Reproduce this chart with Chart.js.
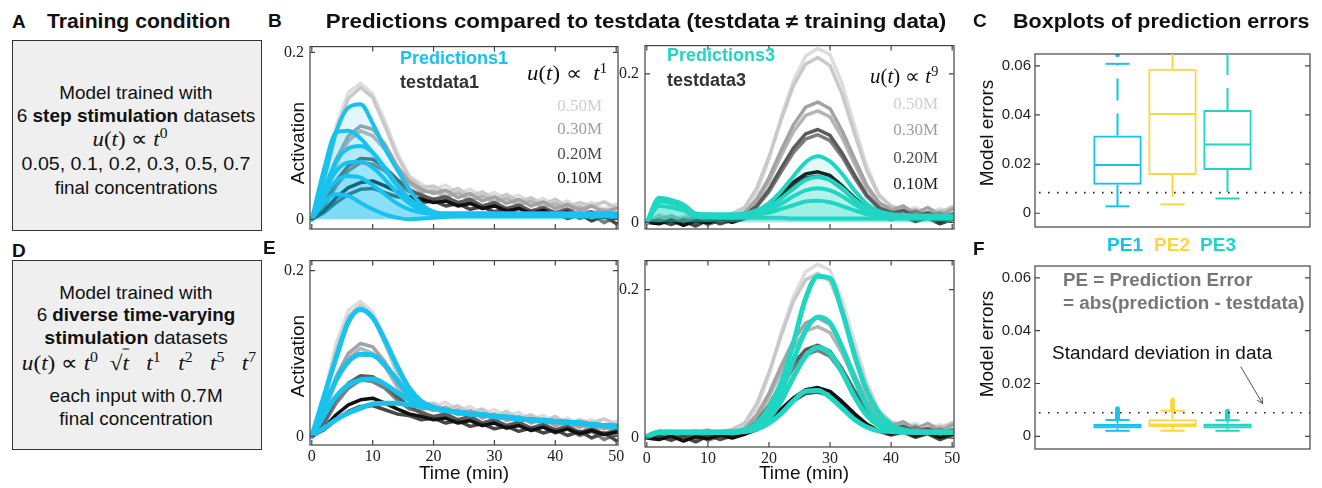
<!DOCTYPE html>
<html>
<head>
<meta charset="utf-8">
<script src="https://cdn.jsdelivr.net/npm/chart.js@4.4.0/dist/chart.umd.min.js"></script>
<style>
  body { margin: 0; background: #fff; }
  #fig { position: relative; width: 1322px; height: 488px; overflow: hidden; background: #fff; }
  .plot { position: absolute; }
  .lbl { position: absolute; white-space: nowrap; line-height: 1; z-index: 2; }
  .lbl sup { font-size: 0.68em; vertical-align: 0.5em; line-height: 0; }
  .ov { border-top: 1px solid #111; padding-top: 1px; }
  .panel { position: absolute; background: #efefef; border: 1.5px solid #333; box-sizing: border-box; }
</style>
</head>
<body>
<div id="fig">
  <div class="panel" style="left:12px;top:40px;width:250px;height:191px"></div>
  <div class="panel" style="left:12px;top:260px;width:250px;height:190px"></div>
</div>
<script>
// time grid (min)
const T = [0, 2, 4, 6, 8, 10, 12, 14, 16, 18, 20, 22, 24, 26, 28, 30, 32, 34, 36, 38, 40, 42, 44, 46, 48, 50];

// testdata1, u(t) ~ t^1 (two replicates per concentration)
const TD1_050A = [0, 0.05, 0.112, 0.152, 0.163, 0.15, 0.118, 0.08, 0.052, 0.042, 0.036, 0.041, 0.031, 0.036, 0.027, 0.032, 0.024, 0.029, 0.02, 0.025, 0.017, 0.022, 0.014, 0.02, 0.012, 0.018];
const TD1_050B = [0, 0.044, 0.104, 0.145, 0.158, 0.146, 0.112, 0.076, 0.05, 0.038, 0.04, 0.032, 0.037, 0.028, 0.033, 0.024, 0.03, 0.021, 0.026, 0.018, 0.024, 0.015, 0.02, 0.016, 0.021, 0.014];
const TD1_030A = [0, 0.03, 0.072, 0.1, 0.112, 0.108, 0.09, 0.064, 0.045, 0.036, 0.031, 0.035, 0.026, 0.031, 0.022, 0.027, 0.019, 0.024, 0.016, 0.021, 0.013, 0.018, 0.011, 0.016, 0.009, 0.013];
const TD1_030B = [0, 0.026, 0.066, 0.094, 0.106, 0.1, 0.084, 0.06, 0.043, 0.033, 0.034, 0.027, 0.032, 0.023, 0.028, 0.02, 0.025, 0.017, 0.022, 0.014, 0.019, 0.01, 0.015, 0.007, 0.012, 0.005];
const TD1_020A = [0, 0.018, 0.046, 0.064, 0.073, 0.072, 0.062, 0.048, 0.036, 0.028, 0.024, 0.027, 0.02, 0.024, 0.016, 0.02, 0.013, 0.017, 0.01, 0.014, 0.008, 0.012, 0.005, 0.009, 0.003, 0.007];
const TD1_020B = [0, 0.015, 0.04, 0.058, 0.068, 0.066, 0.058, 0.044, 0.033, 0.03, 0.022, 0.025, 0.017, 0.021, 0.013, 0.018, 0.01, 0.015, 0.007, 0.012, 0.004, 0.009, 0.001, 0.006, -0.004, 0.003];
const TD1_010A = [0, 0.01, 0.026, 0.038, 0.044, 0.046, 0.04, 0.033, 0.027, 0.024, 0.02, 0.022, 0.016, 0.019, 0.013, 0.016, 0.01, 0.013, 0.007, 0.011, 0.005, 0.009, 0.003, 0.007, 0.002, 0.005];
const TD1_010B = [0, 0.008, 0.02, 0.03, 0.036, 0.037, 0.032, 0.027, 0.025, 0.02, 0.022, 0.016, 0.019, 0.012, 0.015, 0.009, 0.012, 0.006, 0.01, 0.004, 0.008, 0.001, 0.006, -0.002, 0.004, -0.005];

// testdata3, u(t) ~ t^9
const TD3_050A = [0, 0.006, 0.002, 0.008, 0.001, 0.007, 0.003, 0.01, 0.016, 0.04, 0.085, 0.142, 0.19, 0.224, 0.234, 0.226, 0.186, 0.13, 0.076, 0.038, 0.021, 0.014, 0.02, 0.012, 0.018, 0.015];
const TD3_050B = [0, 0.01, 0.005, 0.003, 0.009, 0.002, 0.008, 0.012, 0.02, 0.046, 0.088, 0.138, 0.184, 0.213, 0.222, 0.211, 0.172, 0.12, 0.07, 0.036, 0.022, 0.017, 0.011, 0.019, 0.013, 0.021];
const TD3_030A = [0, 0.004, 0.009, 0.002, 0.006, 0.011, 0.001, 0.007, 0.013, 0.031, 0.06, 0.097, 0.131, 0.155, 0.162, 0.153, 0.123, 0.086, 0.05, 0.027, 0.016, 0.022, 0.012, 0.02, 0.009, 0.018];
const TD3_030B = [0, 0.008, 0.001, 0.006, 0.01, 0.003, 0.009, 0.004, 0.012, 0.028, 0.055, 0.09, 0.122, 0.144, 0.15, 0.142, 0.114, 0.079, 0.046, 0.025, 0.019, 0.011, 0.017, 0.008, 0.015, 0.01];
const TD3_020A = [0, 0.002, -0.003, 0.004, 0, 0.005, -0.002, 0.003, 0.009, 0.022, 0.044, 0.073, 0.1, 0.119, 0.125, 0.117, 0.093, 0.064, 0.037, 0.02, 0.012, 0.016, 0.008, 0.013, 0.006, 0.011];
const TD3_020B = [0, -0.001, 0.004, 0, 0.006, -0.003, 0.003, 0.007, 0.01, 0.021, 0.041, 0.068, 0.094, 0.112, 0.118, 0.11, 0.088, 0.06, 0.035, 0.019, 0.014, 0.009, 0.015, 0.007, 0.012, 0.004];
const TD3_010A = [0, -0.002, 0.003, -0.004, 0.002, -0.001, 0.004, 0, 0.005, 0.012, 0.024, 0.039, 0.054, 0.065, 0.068, 0.063, 0.049, 0.033, 0.019, 0.01, 0.006, 0.009, 0.003, 0.007, 0.001, 0.005];
const TD3_010B = [0, 0.003, -0.002, 0.002, -0.005, 0.003, -0.001, 0.004, 0.006, 0.011, 0.022, 0.036, 0.05, 0.06, 0.062, 0.057, 0.045, 0.03, 0.018, 0.009, 0.004, 0.008, 0.001, 0.006, -0.002, 0.004];

// predictions of the step-trained model (B)
const P1A = [0, 0.05, 0.105, 0.134, 0.138, 0.115, 0.085, 0.06, 0.036, 0.018, 0.009, 0.007, 0.007, 0.007, 0.007, 0.007, 0.007, 0.007, 0.007, 0.007, 0.007, 0.007, 0.007, 0.007, 0.007, 0.007];
const P1B = [0, 0.06, 0.104, 0.106, 0.097, 0.08, 0.06, 0.04, 0.024, 0.013, 0.008, 0.007, 0.007, 0.007, 0.007, 0.007, 0.007, 0.007, 0.007, 0.007, 0.007, 0.007, 0.007, 0.007, 0.007, 0.007];
const P1C = [0, 0.035, 0.07, 0.085, 0.088, 0.08, 0.062, 0.042, 0.025, 0.014, 0.009, 0.006, 0.006, 0.006, 0.006, 0.006, 0.006, 0.006, 0.006, 0.006, 0.006, 0.006, 0.006, 0.006, 0.006, 0.006];
const P1D = [0, 0.032, 0.058, 0.068, 0.069, 0.062, 0.048, 0.032, 0.019, 0.011, 0.007, 0.006, 0.006, 0.006, 0.006, 0.006, 0.006, 0.006, 0.006, 0.006, 0.006, 0.006, 0.006, 0.006, 0.006, 0.006];
const P1E = [0, 0.028, 0.046, 0.052, 0.05, 0.041, 0.03, 0.019, 0.012, 0.008, 0.006, 0.005, 0.005, 0.005, 0.005, 0.005, 0.005, 0.005, 0.005, 0.005, 0.005, 0.005, 0.005, 0.005, 0.005, 0.005];
const P1F = [0, 0.02, 0.03, 0.028, 0.02, 0.012, 0.006, 0.002, 0, 0.001, 0.002, 0.003, 0.004, 0.004, 0.004, 0.004, 0.004, 0.004, 0.004, 0.004, 0.004, 0.004, 0.004, 0.004, 0.004, 0.004];

const P3A = [0, 0.033, 0.03, 0.024, 0.012, 0.011, 0.011, 0.011, 0.012, 0.016, 0.026, 0.042, 0.062, 0.081, 0.089, 0.082, 0.065, 0.043, 0.025, 0.015, 0.011, 0.01, 0.009, 0.009, 0.009, 0.009];
const P3B = [0, 0.031, 0.028, 0.022, 0.011, 0.01, 0.01, 0.01, 0.011, 0.014, 0.021, 0.032, 0.045, 0.057, 0.061, 0.057, 0.046, 0.031, 0.019, 0.012, 0.01, 0.009, 0.009, 0.009, 0.009, 0.009];
const P3C = [0, 0.03, 0.027, 0.021, 0.011, 0.01, 0.009, 0.009, 0.01, 0.012, 0.017, 0.025, 0.035, 0.043, 0.046, 0.043, 0.035, 0.024, 0.015, 0.01, 0.009, 0.008, 0.008, 0.008, 0.008, 0.008];
const P3D = [0, 0.028, 0.026, 0.02, 0.01, 0.009, 0.008, 0.008, 0.009, 0.01, 0.013, 0.018, 0.023, 0.028, 0.029, 0.027, 0.022, 0.016, 0.011, 0.008, 0.007, 0.007, 0.007, 0.007, 0.007, 0.007];
const P3E = [0, 0.022, 0.02, 0.016, 0.008, 0.007, 0.006, 0.006, 0.006, 0.006, 0.006, 0.006, 0.005, 0.005, 0.005, 0.005, 0.005, 0.005, 0.005, 0.005, 0.005, 0.005, 0.005, 0.005, 0.005, 0.005];

// predictions of the model trained on diverse inputs (E)
const E1A = [0, 0.048, 0.095, 0.138, 0.153, 0.143, 0.116, 0.085, 0.058, 0.042, 0.035, 0.031, 0.029, 0.027, 0.026, 0.024, 0.023, 0.021, 0.02, 0.019, 0.018, 0.017, 0.016, 0.014, 0.013, 0.012];
const E1B = [0, 0.035, 0.068, 0.09, 0.099, 0.098, 0.086, 0.068, 0.05, 0.04, 0.035, 0.031, 0.029, 0.027, 0.026, 0.024, 0.023, 0.021, 0.02, 0.019, 0.018, 0.017, 0.016, 0.014, 0.013, 0.012];
const E1C = [0, 0.025, 0.048, 0.062, 0.068, 0.069, 0.063, 0.053, 0.044, 0.038, 0.034, 0.031, 0.029, 0.027, 0.026, 0.024, 0.023, 0.021, 0.02, 0.019, 0.018, 0.017, 0.016, 0.014, 0.013, 0.012];
const E1D = [0, 0.01, 0.02, 0.028, 0.034, 0.039, 0.04, 0.04, 0.038, 0.036, 0.034, 0.031, 0.029, 0.027, 0.026, 0.024, 0.023, 0.021, 0.02, 0.019, 0.018, 0.017, 0.016, 0.014, 0.013, 0.012];

const E3A = [0.002, 0.008, 0.008, 0.008, 0.008, 0.008, 0.008, 0.009, 0.011, 0.02, 0.041, 0.075, 0.128, 0.188, 0.218, 0.215, 0.17, 0.112, 0.064, 0.034, 0.018, 0.011, 0.009, 0.008, 0.008, 0.008];
const E3B = [0.002, 0.008, 0.008, 0.008, 0.008, 0.008, 0.008, 0.008, 0.01, 0.016, 0.032, 0.062, 0.105, 0.145, 0.163, 0.155, 0.122, 0.08, 0.044, 0.022, 0.013, 0.01, 0.008, 0.008, 0.008, 0.008];
const E3C = [0.002, 0.008, 0.008, 0.008, 0.008, 0.008, 0.008, 0.008, 0.009, 0.014, 0.027, 0.05, 0.082, 0.11, 0.122, 0.114, 0.088, 0.056, 0.031, 0.017, 0.011, 0.009, 0.008, 0.008, 0.008, 0.008];
const E3D = [0.002, 0.008, 0.008, 0.008, 0.008, 0.008, 0.008, 0.008, 0.009, 0.012, 0.02, 0.033, 0.05, 0.063, 0.064, 0.055, 0.04, 0.025, 0.015, 0.01, 0.009, 0.008, 0.008, 0.008, 0.008, 0.008];

// boxplot statistics: PE1, PE2, PE3
const PE_NAMES = ['PE1', 'PE2', 'PE3'];
const C_Q1 = [0.0116, 0.0156, 0.0176];
const C_Q3 = [0.0316, 0.0588, 0.042];
const C_MED = [0.0196, 0.0404, 0.028];
const C_LO = [0.0028, 0.0036, 0.006];
const C_HI = [0.0608, 0.095, 0.085];
const C_OUT1 = [0.0644];
const C_SD = 0.0084;

const F_Q1 = [0.003, 0.0035, 0.003];
const F_Q3 = [0.0048, 0.0065, 0.0049];
const F_MED = [0.004, 0.0045, 0.0041];
const F_LO = [0.0021, 0.0021, 0.0021];
const F_HI = [0.0062, 0.0097, 0.0061];
const F_OUT1 = [0.0068, 0.0072, 0.0076, 0.008, 0.0084, 0.0088, 0.0092, 0.0096, 0.01, 0.0105];
const F_OUT2 = [0.0104, 0.0108, 0.0112, 0.0116, 0.012, 0.0124, 0.0128, 0.0133, 0.0138];
const F_OUT3 = [0.0068, 0.0072, 0.0076, 0.008, 0.0084, 0.0088, 0.0092, 0.0096];
const F_SD = 0.0089;

const CYAN = '#17c2ee';
const TURQ = '#20d6c2';
const YELLOW = '#ffd640';
const CYAN_FILL = 'rgba(23, 194, 238, 0.13)';
const TURQ_FILL = 'rgba(32, 214, 194, 0.13)';
const GRAYS = ['#101010', '#474747', '#5b5b5b', '#7d7d7d', '#a3a3a3', '#b5b5b5', '#c9c9c9', '#dddddd'];
const SANS = "'Liberation Sans', Arial, sans-serif";
const SERIF = "'Liberation Serif', 'Times New Roman', serif";

const FIG = document.getElementById('fig');

function label(html, x, y, o = {}) {
  const el = document.createElement('div');
  el.className = 'lbl';
  el.innerHTML = html;
  const align = o.align || 'left';
  Object.assign(el.style, {
    left: x + 'px',
    top: y + 'px',
    fontSize: (o.size || 19) + 'px',
    fontWeight: o.bold ? 'bold' : 'normal',
    color: o.color || '#111',
    fontFamily: o.serif ? SERIF : SANS,
    transformOrigin: { left: '0 50%', center: '50% 50%', right: '100% 50%' }[align],
  });
  FIG.appendChild(el);
  const ax = { left: 0, center: -50, right: -100 }[align];
  const k = o.fit ? o.fit / el.offsetWidth : 1;
  el.style.transform = `translate(${ax}%, -50%)` + (o.rotate ? ' rotate(-90deg)' : '') + (k !== 1 ? ` scaleX(${k.toFixed(3)})` : '');
  return el;
}

// a canvas whose chart area lands on box = [left, top, right, bottom]
function plotCanvas(box) {
  const div = document.createElement('div');
  div.className = 'plot';
  Object.assign(div.style, {
    left: (box[0] - 50) + 'px',
    top: (box[1] - 10) + 'px',
    width: (box[2] - box[0] + 70) + 'px',
    height: (box[3] - box[1] + 42) + 'px',
  });
  const canvas = document.createElement('canvas');
  div.appendChild(canvas);
  FIG.appendChild(div);
  return canvas;
}

function baseOptions(xOpts, yOpts) {
  const axis = (extra, fit) => Object.assign({ grid: { display: false, drawTicks: false }, border: { display: false }, afterFit: fit }, extra);
  return {
    responsive: true,
    maintainAspectRatio: false,
    animation: false,
    events: [],
    layout: { padding: { left: 0, top: 10, right: 20, bottom: 0 } },
    plugins: { legend: { display: false }, tooltip: { enabled: false } },
    scales: {
      x: axis(xOpts, s => { s.height = 32; }),
      y: axis(yOpts, s => { s.width = 50; }),
    },
  };
}

// MATLAB-like axes box with inward ticks
const framePlugin = {
  id: 'frame',
  afterDatasetsDraw(chart) {
    const { ctx, chartArea: a, scales } = chart;
    const len = 5;
    ctx.save();
    ctx.strokeStyle = '#444';
    ctx.lineWidth = 1.2;
    ctx.strokeRect(a.left, a.top, a.right - a.left, a.bottom - a.top);
    ctx.beginPath();
    scales.y.ticks.forEach(t => {
      const y = scales.y.getPixelForValue(t.value);
      ctx.moveTo(a.left, y); ctx.lineTo(a.left + len, y);
      ctx.moveTo(a.right, y); ctx.lineTo(a.right - len, y);
    });
    if (scales.x.type === 'linear') {
      scales.x.ticks.forEach(t => {
        const x = scales.x.getPixelForValue(t.value);
        ctx.moveTo(x, a.bottom); ctx.lineTo(x, a.bottom - len);
        ctx.moveTo(x, a.top); ctx.lineTo(x, a.top + len);
      });
    }
    ctx.stroke();
    ctx.restore();
  },
};

function series(values, color, width, extra) {
  return Object.assign({
    data: values.map((v, i) => ({ x: T[i], y: v })),
    borderColor: color,
    borderWidth: width,
    pointRadius: 0,
    tension: 0,
    fill: false,
    borderJoinStyle: 'round',
    borderCapStyle: 'round',
  }, extra);
}

function prediction(values, color, width, fillColor) {
  return series(values, color, width, {
    cubicInterpolationMode: 'monotone',
    fill: fillColor ? 'origin' : false,
    backgroundColor: fillColor || 'transparent',
  });
}

function lineChart(box, yRange, showX, datasets) {
  const tickFont = { family: SERIF, size: 16 };
  return new Chart(plotCanvas(box), {
    type: 'line',
    data: { datasets },
    options: baseOptions(
      { type: 'linear', min: -0.3, max: 50.3, ticks: { stepSize: 10, display: showX, padding: 2, font: tickFont, color: '#222', includeBounds: false } },
      { type: 'linear', min: yRange[0], max: yRange[1], ticks: { stepSize: 0.2, padding: 6, font: tickFont, color: '#222', includeBounds: false } }
    ),
    plugins: [framePlugin],
  });
}

const testdata1 = [TD1_010A, TD1_010B, TD1_020A, TD1_020B, TD1_030A, TD1_030B, TD1_050B, TD1_050A]
  .map((v, i) => series(v, GRAYS[i], 3.5));
const testdata3 = [TD3_010A, TD3_010B, TD3_020A, TD3_020B, TD3_030A, TD3_030B, TD3_050B, TD3_050A]
  .map((v, i) => series(v, GRAYS[i], 3.5));

lineChart([310, 41, 618, 229], [-0.0116, 0.207], false, [
  ...[P1F, P1E, P1D, P1C, P1B, P1A].map(v => prediction(v, CYAN, 4, CYAN_FILL)),
  ...testdata1,
]);
lineChart([645, 40, 954, 229], [-0.009, 0.238], false, [
  ...[P3E, P3D, P3C, P3B, P3A].map(v => prediction(v, TURQ, 4, TURQ_FILL)),
  ...testdata3,
]);
lineChart([310, 255, 618, 445], [-0.0105, 0.212], true, [
  ...[E1D, E1C, E1B, E1A].map(v => prediction(v, CYAN, 5)),
  ...testdata1.map(d => Object.assign({}, d)),
]);
lineChart([645, 255, 954, 447], [-0.012, 0.239], true, [
  ...[E3D, E3C, E3B, E3A].map(v => prediction(v, TURQ, 5)),
  ...testdata3.map(d => Object.assign({}, d)),
]);

// whiskers, caps, medians, reference line and optional arrow note
function whiskerPlugin(stats) {
  return {
    id: 'whiskers',
    afterDatasetsDraw(chart) {
      const { ctx, chartArea: a, scales: { x, y } } = chart;
      const bars = chart.getDatasetMeta(0).data;
      ctx.save();
      ctx.beginPath();
      ctx.rect(a.left, a.top, a.right - a.left, a.bottom - a.top);
      ctx.clip();
      const seg = (x1, y1, x2, y2) => { ctx.beginPath(); ctx.moveTo(x1, y1); ctx.lineTo(x2, y2); ctx.stroke(); };
      PE_NAMES.forEach((name, i) => {
        const bar = bars[i + 1];
        const cx = bar.x, half = bar.width / 2, cap = half / 2;
        const py = v => y.getPixelForValue(v);
        ctx.strokeStyle = stats.colors[i];
        ctx.lineWidth = 2;
        ctx.setLineDash([22, 13]);
        seg(cx, py(stats.q3[i]), cx, py(stats.hi[i]));
        seg(cx, py(stats.q1[i]), cx, py(stats.lo[i]));
        ctx.setLineDash([]);
        seg(cx - cap, py(stats.hi[i]), cx + cap, py(stats.hi[i]));
        seg(cx - cap, py(stats.lo[i]), cx + cap, py(stats.lo[i]));
        seg(cx - half + 1, py(stats.med[i]), cx + half - 1, py(stats.med[i]));
      });
      const ys = y.getPixelForValue(stats.sd);
      ctx.strokeStyle = '#222';
      ctx.lineWidth = 1.6;
      ctx.setLineDash([1.6, 7.4]);
      seg(a.left + 4, ys, a.right, ys);
      ctx.setLineDash([]);
      if (stats.arrow) {
        const [x0, y0, x1, y1] = stats.arrow;
        const p0 = [x.getPixelForValue(x0), y.getPixelForValue(y0)];
        const p1 = [x.getPixelForValue(x1), y.getPixelForValue(y1)];
        const ang = Math.atan2(p1[1] - p0[1], p1[0] - p0[0]);
        ctx.strokeStyle = '#555';
        ctx.lineWidth = 1;
        seg(p0[0], p0[1], p1[0], p1[1]);
        [0.45, -0.45].forEach(d => seg(p1[0], p1[1], p1[0] - 7 * Math.cos(ang + d), p1[1] - 7 * Math.sin(ang + d)));
      }
      ctx.restore();
    },
  };
}

function boxChart(box, yRange, stats, outliers) {
  const colors = [CYAN, YELLOW, TURQ];
  const tickFont = { family: SANS, size: 15 };
  const cats = ['', ...PE_NAMES, ''];
  return new Chart(plotCanvas(box), {
    type: 'bar',
    data: {
      labels: cats,
      datasets: [
        {
          data: [null, ...stats.q1.map((q, i) => [q, stats.q3[i]]), null],
          borderColor: ['transparent', ...colors, 'transparent'],
          backgroundColor: 'rgba(0,0,0,0)',
          borderWidth: 2,
          borderSkipped: false,
          barPercentage: 0.88,
          categoryPercentage: 1,
        },
        ...outliers.map((vals, i) => ({
          type: 'line',
          showLine: false,
          data: vals.map(v => ({ x: PE_NAMES[i], y: v })),
          pointRadius: 2.3,
          pointBorderWidth: 0,
          pointBackgroundColor: colors[i],
        })),
      ],
    },
    options: baseOptions(
      { type: 'category', ticks: { display: false } },
      { type: 'linear', min: yRange[0], max: yRange[1], ticks: { stepSize: 0.02, padding: 4, font: tickFont, color: '#222', includeBounds: false } }
    ),
    plugins: [framePlugin, whiskerPlugin(Object.assign({ colors }, stats))],
  });
}

boxChart([1035, 51, 1310, 227], [-0.0056, 0.0648],
  { q1: C_Q1, q3: C_Q3, med: C_MED, lo: C_LO, hi: C_HI, sd: C_SD },
  [C_OUT1, [], []]);
boxChart([1035, 263, 1310, 449], [-0.0048, 0.0645],
  { q1: F_Q1, q3: F_Q3, med: F_MED, lo: F_LO, hi: F_HI, sd: F_SD, arrow: [3.24, 0.0264, 3.64, 0.0123] },
  [F_OUT1, F_OUT2, F_OUT3]);

// panel letters and titles
label('A', 12, 21, { bold: true, size: 19 });
label('Training condition', 47, 21, { bold: true, size: 20, fit: 183 });
label('B', 268, 20, { bold: true, size: 19 });
label('Predictions compared to testdata (testdata ≠ training data)', 636, 21, { bold: true, size: 20, align: 'center', fit: 620 });
label('C', 973, 20, { bold: true, size: 19 });
label('Boxplots of prediction errors', 1013, 21, { bold: true, size: 20, fit: 297 });
label('D', 12, 250, { bold: true, size: 19 });
label('E', 263, 247, { bold: true, size: 19 });
label('F', 973, 248, { bold: true, size: 19 });

// panel A text
label('Model trained with', 136, 92, { align: 'center', fit: 153 });
label('6 <b>step stimulation</b> datasets', 136, 115, { align: 'center', fit: 239 });
label('<i>u</i>(<i>t</i>) ∝ <i>t</i><sup>0</sup>', 130, 139, { align: 'center', serif: true, size: 21, fit: 75 });
label('0.05, 0.1, 0.2, 0.3, 0.5, 0.7', 136, 163, { align: 'center', fit: 229 });
label('final concentrations', 136, 187, { align: 'center', fit: 163 });

// panel D text
label('Model trained with', 136, 292, { align: 'center', fit: 153 });
label('6 <b>diverse time-varying</b>', 136, 314, { align: 'center', fit: 199 });
label('<b>stimulation</b> datasets', 136, 337, { align: 'center', fit: 183 });
label('<i>u</i>(<i>t</i>) ∝ <i>t</i><sup>0</sup>&nbsp;&nbsp;√<span class="ov"><i>t</i></span>&nbsp;&nbsp;&nbsp;<i>t</i><sup>1</sup>&nbsp;&nbsp;&nbsp;<i>t</i><sup>2</sup>&nbsp;&nbsp;&nbsp;<i>t</i><sup>5</sup>&nbsp;&nbsp;&nbsp;<i>t</i><sup>7</sup>',
  139, 363, { align: 'center', serif: true, size: 21, fit: 235 });
label('each input with 0.7M', 136, 395, { align: 'center', fit: 173 });
label('final concentration', 136, 418, { align: 'center', fit: 153 });

// axis titles
label('Activation', 297, 143, { align: 'center', rotate: true, size: 19 });
label('Activation', 297, 356, { align: 'center', rotate: true, size: 19 });
label('Time (min)', 464, 472, { align: 'center', size: 19 });
label('Time (min)', 804, 472, { align: 'center', size: 19 });
label('Model errors', 986, 133, { align: 'center', rotate: true, size: 19 });
label('Model errors', 986, 344, { align: 'center', rotate: true, size: 19 });

// legends in B
label('Predictions1', 400, 58, { bold: true, size: 18, color: CYAN });
label('testdata1', 400, 82, { bold: true, size: 18, color: '#333' });
label('<i>u</i>(<i>t</i>) ∝ &nbsp;<i>t</i><sup>1</sup>', 527, 73, { serif: true, size: 20, fit: 80 });
label('Predictions3', 667, 55, { bold: true, size: 18, color: TURQ });
label('testdata3', 667, 80, { bold: true, size: 18, color: '#333' });
label('<i>u</i>(<i>t</i>) ∝ <i>t</i><sup>9</sup>', 870, 76, { serif: true, size: 20, fit: 68 });

const CONC = ['0.50M', '0.30M', '0.20M', '0.10M'];
const CONC_COLORS = ['#cfcfcf', '#9f9f9f', '#4d4d4d', '#1c1c1c'];
[105, 128, 153, 177].forEach((y, i) => label(CONC[i], 602, y, { align: 'right', serif: true, size: 17, color: CONC_COLORS[i] }));
[103, 129, 157, 183].forEach((y, i) => label(CONC[i], 938, y, { align: 'right', serif: true, size: 17, color: CONC_COLORS[i] }));

// C/F labels
label('PE1', 1125, 244, { align: 'center', bold: true, size: 19, color: CYAN });
label('PE2', 1172, 244, { align: 'center', bold: true, size: 19, color: YELLOW });
label('PE3', 1218, 244, { align: 'center', bold: true, size: 19, color: TURQ });
label('PE = Prediction Error', 1063, 280, { bold: true, size: 18, color: '#777', fit: 190 });
label('= abs(prediction - testdata)', 1063, 303, { bold: true, size: 18, color: '#777', fit: 242 });
label('Standard deviation in data', 1052, 353, { size: 18, fit: 220 });
</script>
</body>
</html>
